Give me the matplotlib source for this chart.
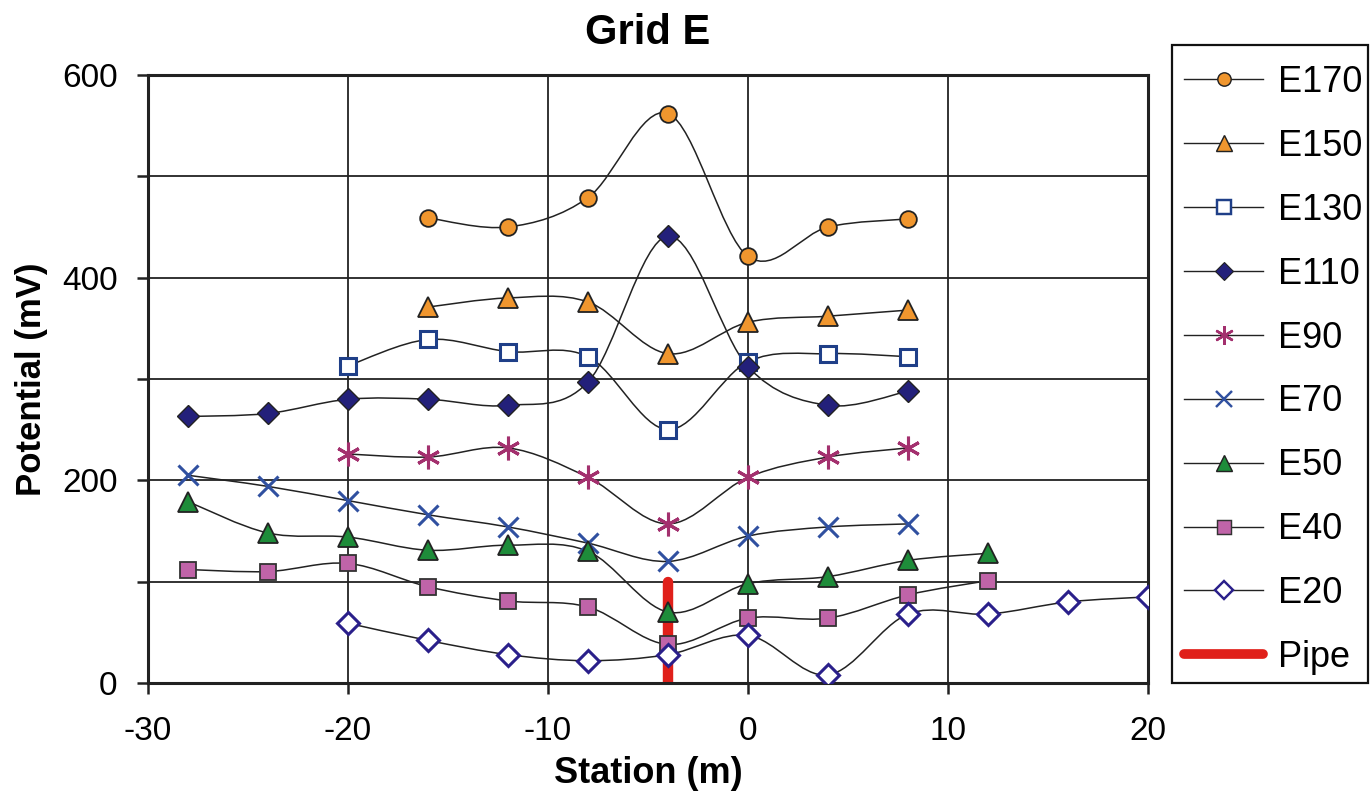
import numpy as np
import matplotlib
matplotlib.use("Agg")
import matplotlib.pyplot as plt
from matplotlib.path import Path
from matplotlib.patches import PathPatch, Rectangle
from matplotlib.lines import Line2D
from matplotlib.ticker import MultipleLocator, FuncFormatter

plt.rcParams['font.family'] = ['Liberation Sans', 'DejaVu Sans']
plt.rcParams['axes.unicode_minus'] = False

# ── data (station m, potential mV) ──
e170_x = [-16, -12, -8, -4, 0, 4, 8]
e170_y = [459, 450, 479, 562, 421, 450, 458]
e150_x = [-16, -12, -8, -4, 0, 4, 8]
e150_y = [371, 380, 376, 325, 356, 362, 368]
e130_x = [-20, -16, -12, -8, -4, 0, 4, 8]
e130_y = [313, 339, 327, 322, 250, 317, 325, 322]
e110_x = [-28, -24, -20, -16, -12, -8, -4, 0, 4, 8]
e110_y = [263, 266, 280, 280, 274, 297, 441, 312, 274, 288]
e90_x = [-20, -16, -12, -8, -4, 0, 4, 8]
e90_y = [226, 223, 232, 203, 157, 203, 223, 232]
e70_x = [-28, -24, -20, -16, -12, -8, -4, 0, 4, 8]
e70_y = [205, 194, 180, 166, 154, 138, 120, 145, 154, 157]
e50_x = [-28, -24, -20, -16, -12, -8, -4, 0, 4, 8, 12]
e50_y = [179, 148, 144, 131, 136, 130, 70, 98, 105, 121, 128]
e40_x = [-28, -24, -20, -16, -12, -8, -4, 0, 4, 8, 12]
e40_y = [112, 110, 118, 95, 81, 75, 38, 64, 64, 87, 101]
e20_x = [-20, -16, -12, -8, -4, 0, 4, 8, 12, 16, 20]
e20_y = [59, 42, 28, 22, 28, 47, 8, 68, 68, 80, 85]
pipe_x = [-4, -4]
pipe_y = [0, 100]

series = [
    ("E170", e170_x, e170_y, dict(marker="o", mfc="#F0962E", mec="#222222", ms=12, mew=1.3)),
    ("E150", e150_x, e150_y, dict(marker="^", mfc="#F0962E", mec="#222222", ms=14, mew=1.3)),
    ("E130", e130_x, e130_y, dict(marker="s", mfc="white", mec="#1F3F88", ms=12, mew=2.2)),
    ("E110", e110_x, e110_y, dict(marker="D", mfc="#23207A", mec="#222222", ms=11, mew=1.0)),
    ("E90", e90_x, e90_y, dict(marker=(6, 2, 0), mfc="#A3306E", mec="#A3306E", ms=17, mew=2.2)),
    ("E70", e70_x, e70_y, dict(marker="x", mfc="#3050A0", mec="#3050A0", ms=15, mew=2.2)),
    ("E50", e50_x, e50_y, dict(marker="^", mfc="#1E8C3A", mec="#222222", ms=14, mew=1.3)),
    ("E40", e40_x, e40_y, dict(marker="s", mfc="#C064A8", mec="#333333", ms=12, mew=1.3)),
    ("E20", e20_x, e20_y, dict(marker="D", mfc="white", mec="#2A1F8A", ms=11, mew=2.2)),
]


def smooth_path(xs, ys):
    """Catmull-Rom style cubic bezier through the points (like Excel smoothed lines)."""
    p = np.column_stack([xs, ys]).astype(float)
    n = len(p)
    verts = [p[0]]
    codes = [Path.MOVETO]
    for i in range(n - 1):
        p0 = p[i - 1] if i > 0 else p[i]
        p3 = p[i + 2] if i + 2 < n else p[i + 1]
        c1 = p[i] + (p[i + 1] - p0) / 6.0
        c2 = p[i + 1] - (p3 - p[i]) / 6.0
        verts += [c1, c2, p[i + 1]]
        codes += [Path.CURVE4] * 3
    return Path(verts, codes)


W, H = 1372, 794
fig = plt.figure(figsize=(W / 100, H / 100), dpi=100)
ax = fig.add_axes([148 / W, 1 - 683 / H, 1000 / W, 608 / H])

ax.plot(pipe_x, pipe_y, color="#E0201A", lw=7.5, solid_capstyle="round", zorder=2)

handles = []
for i, (name, xs, ys, st) in enumerate(series):
    ax.add_patch(PathPatch(smooth_path(xs, ys), facecolor="none", edgecolor="#222222",
                           lw=1.1, zorder=3))
    ax.plot(xs, ys, linestyle="none", zorder=4 + i * 0.01, **st)
    lst = dict(st)
    lst["ms"] = st["ms"] * 0.8
    lst["mew"] = st["mew"] * 0.8
    handles.append(Line2D([], [], color="#222222", lw=1.0, **lst))
handles.append(Line2D([], [], color="#E0201A", lw=7, solid_capstyle="round"))
labels = [s[0] for s in series] + ["Pipe"]

ax.set_xlim(-30, 20)
ax.set_ylim(0, 600)
ax.xaxis.set_major_locator(MultipleLocator(10))
ax.yaxis.set_major_locator(MultipleLocator(100))
ax.yaxis.set_major_formatter(FuncFormatter(lambda v, p: f"{v:.0f}" if int(v) % 200 == 0 else ""))
ax.grid(True, color="#222222", lw=1.3)
ax.set_axisbelow(True)
for s in ax.spines.values():
    s.set_linewidth(2.2)
    s.set_color("#222222")
ax.tick_params(direction="out", length=8, width=1.8, labelsize=24, color="#222222")
ax.tick_params(axis="x", pad=16)
ax.tick_params(axis="y", pad=14)

ax.set_xlabel("Station (m)", fontsize=26, fontweight="bold", labelpad=6)
ax.set_ylabel("Potential (mV)", fontsize=25, fontweight="bold", labelpad=10)
ax.set_title("Grid E", fontsize=30, fontweight="bold", pad=22)

# legend frame drawn separately, entries placed inside
fig.patches.append(Rectangle((1172 / W, 1 - 683 / H), 196 / W, 638 / H, transform=fig.transFigure,
                             facecolor="white", edgecolor="#111111", lw=1.6, zorder=0))
leg = fig.legend(handles, labels, loc="upper left", bbox_to_anchor=(1184 / W, 1 - 65 / H),
                 fontsize=26, frameon=False, handlelength=2.2, handletextpad=0.4,
                 labelspacing=0.8, borderpad=0, borderaxespad=0)

plt.savefig("out.png", dpi=100)
